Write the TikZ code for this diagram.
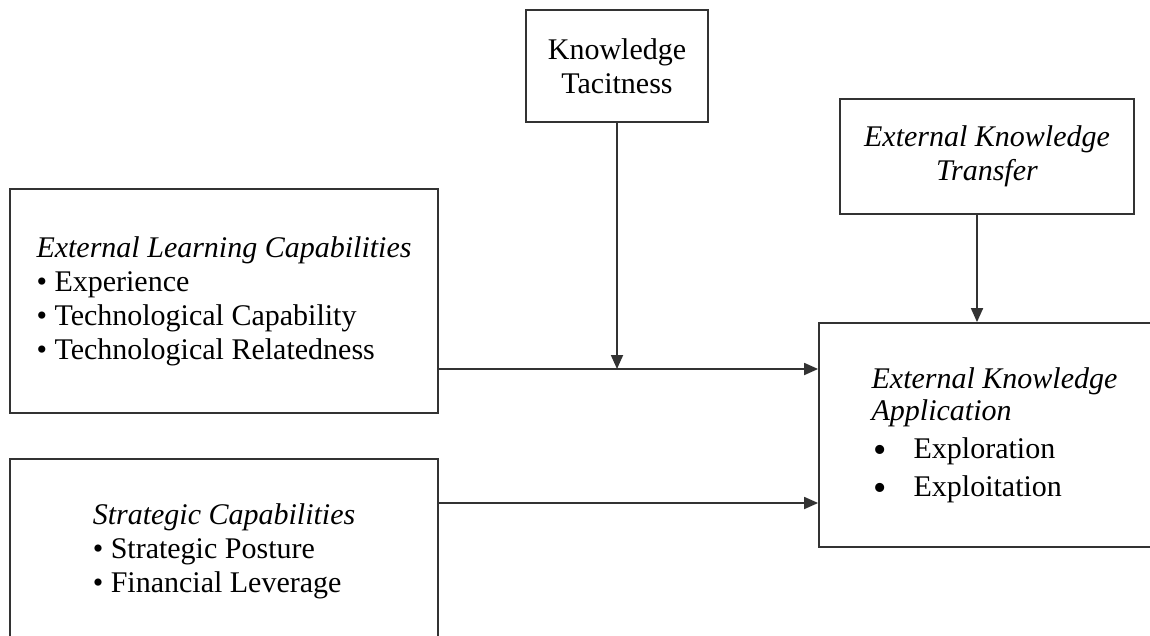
\documentclass[tikz,border=0pt]{standalone}
\usepackage{fontspec}
\setmainfont{Liberation Serif}
\usetikzlibrary{arrows.meta}

\tikzset{box/.style={draw=black!80,line width=0.9pt,inner sep=0pt,font=\fontsize{15}{17}\selectfont},
conn/.style={->,line width=0.9pt,draw=black!80}}
\newcommand{\bigbul}{\hspace*{1pt}\makebox[20pt][l]{\raisebox{-2pt}[0pt][0pt]{\fontsize{19}{17}\selectfont\textbullet}}}

\begin{document}
\begin{tikzpicture}[x=0.5pt,y=-0.5pt,>={Triangle[length=7pt,width=6pt]}]
\useasboundingbox (0,0) rectangle (1150,636);
\clip (0,0) rectangle (1150,636);

\node[box,align=center,minimum width=91pt,minimum height=56pt] (tac) at (617,66) {Knowledge\\Tacitness};

\node[box,align=center,minimum width=147pt,minimum height=57.5pt] (xfer) at (987,156.5) {\textit{External Knowledge}\\\textit{Transfer}};

\node[box,align=left,minimum width=214pt,minimum height=112pt] (elc) at (224,301) {\textit{External Learning Capabilities}\\\textbullet{} Experience\\\textbullet{} Technological Capability\\\textbullet{} Technological Relatedness};

\node[box,align=left,minimum width=214pt,minimum height=92pt] (sc) at (224,551) {\textit{Strategic Capabilities}\\\textbullet{} Strategic Posture\\\textbullet{} Financial Leverage};

\node[box,align=left,minimum width=175.5pt,minimum height=112pt] (app) at (994.5,435) {\textit{External Knowledge}\\[-1pt]\textit{Application}\\[2pt]\bigbul Exploration\\[2pt]\bigbul Exploitation};

\coordinate (m) at ([yshift=33pt]app.west);
\coordinate (n) at ([yshift=-34pt]app.west);

\draw[conn] (elc.east |- m) -- (m);
\draw[conn] (tac.south) -- (tac.south |- m);
\draw[conn] ([xshift=-5pt]xfer.south) -- ([xshift=-5pt]xfer.south |- app.north);
\draw[conn] (sc.east |- n) -- (n);
\end{tikzpicture}
\end{document}
